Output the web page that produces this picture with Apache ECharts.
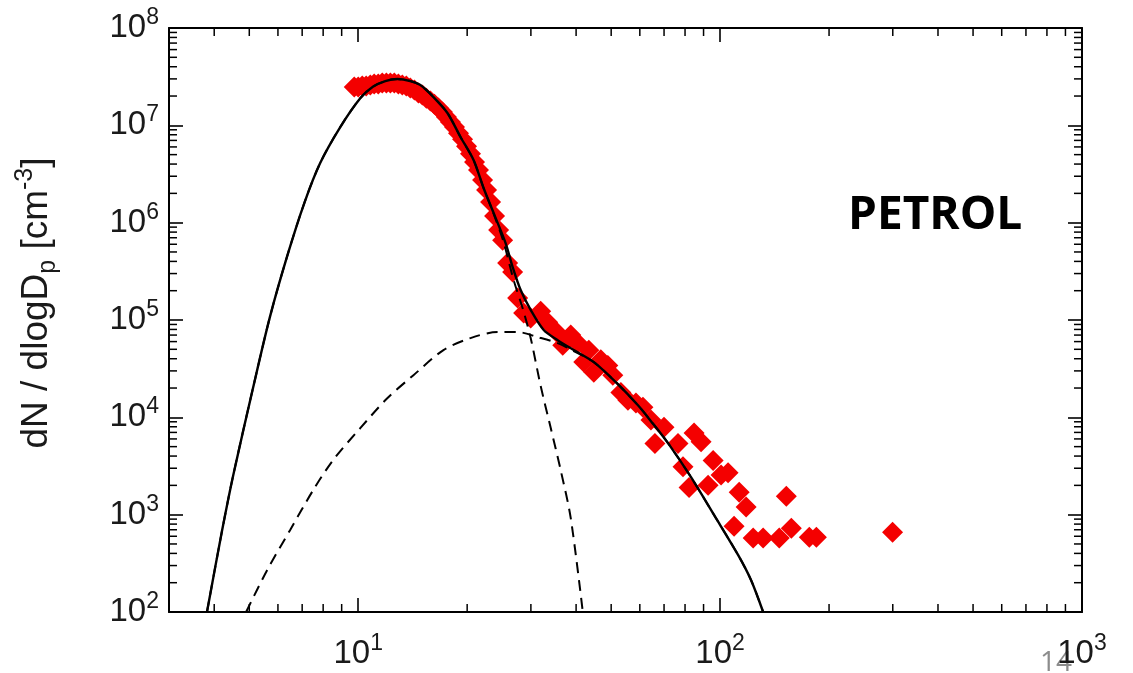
<!DOCTYPE html>
<html>
<head>
<meta charset="utf-8">
<script src="https://cdn.jsdelivr.net/npm/echarts@6/dist/echarts.min.js"></script>
<style>
html, body { margin: 0; padding: 0; background: #fff; }
#chart { width: 1133px; height: 673px; }
</style>
</head>
<body>
<div id="chart"></div>
<script>
// particle diameter Dp [nm] vs dN/dlogDp [cm-3]
const measured = [
    [9.75, 2.48e7], [10.0, 2.48e7], [10.26, 2.53e7], [10.52, 2.53e7], [10.80, 2.60e7],
    [11.07, 2.66e7], [11.36, 2.66e7], [11.65, 2.72e7], [11.96, 2.72e7], [12.27, 2.72e7],
    [12.58, 2.72e7], [12.91, 2.66e7], [13.24, 2.60e7], [13.58, 2.53e7], [13.93, 2.42e7],
    [14.30, 2.31e7], [14.67, 2.15e7], [15.04, 2.05e7], [15.43, 1.90e7], [15.83, 1.78e7],
    [16.24, 1.65e7], [16.66, 1.51e7], [17.09, 1.37e7], [17.53, 1.22e7], [17.98, 1.08e7],
    [18.45, 9.6e6], [18.93, 8.3e6], [19.42, 7.2e6], [19.92, 6.1e6], [20.43, 5.1e6],
    [20.96, 4.2e6], [21.50, 3.47e6], [22.06, 2.74e6], [22.63, 2.17e6], [23.21, 1.63e6],
    [23.81, 1.17e6], [24.43, 8.4e5], [25.06, 6.6e5], [25.87, 3.85e5], [26.71, 3.11e5],
    [27.57, 1.68e5], [28.65, 1.18e5], [29.96, 1.05e5], [31.93, 1.23e5], [33.38, 9.5e4],
    [35.36, 7.5e4], [36.74, 5.5e4], [38.66, 7.0e4], [40.42, 5.8e4], [42.00, 3.7e4],
    [43.37, 4.9e4], [44.77, 2.9e4], [46.81, 3.9e4], [48.95, 3.4e4], [50.53, 2.7e4],
    [53.19, 1.8e4], [55.62, 1.5e4], [58.53, 1.4e4], [61.20, 1.27e4], [64.40, 9.4e3],
    [66.06, 5.4e3], [69.98, 7.9e3], [76.49, 5.4e3], [78.97, 3.1e3], [82.06, 1.9e3],
    [84.72, 6.9e3], [88.59, 5.6e3], [92.64, 2.0e3], [95.64, 3.6e3], [100.6, 2.55e3],
    [105.2, 2.7e3], [109.3, 760], [112.9, 1.7e3], [118.0, 1.2e3], [123.4, 575],
    [131.5, 575], [145.7, 575], [152.4, 1.55e3], [157.3, 725], [176.4, 585],
    [184.5, 585], [299.6, 660]
];

// bimodal fit (solid) and its two modes (dashed)
const fitTotal = [
    [3.82, 100], [4.2, 670], [4.51, 2.5e3], [5.12, 2.0e4], [5.70, 1.07e5],
    [6.36, 4.5e5], [7.1, 1.6e6], [7.85, 4.1e6], [8.92, 9.6e6], [10.13, 1.9e7],
    [11.0, 2.5e7], [11.88, 2.85e7], [12.83, 2.99e7], [13.93, 2.85e7], [14.85, 2.59e7],
    [16.14, 1.95e7], [17.64, 1.34e7], [19.17, 7.59e6], [20.83, 4.40e6], [22.20, 2.27e6],
    [23.66, 1.26e6], [25.54, 6.17e5], [26.71, 3.50e5], [28.11, 2.03e5], [29.96, 1.27e5],
    [32.55, 7.88e4], [35.58, 6.21e4], [39.40, 4.91e4], [44.77, 3.69e4], [51.5, 2.30e4],
    [59.3, 1.33e4], [64.4, 9.14e3], [71.8, 5.43e3], [83.1, 2.43e3], [96.3, 988],
    [112.2, 384], [121.8, 212], [131.5, 100]
];
const fitMode1 = [
    [3.82, 100], [4.2, 670], [4.51, 2.5e3], [5.12, 2.0e4], [5.70, 1.07e5],
    [6.36, 4.5e5], [7.1, 1.6e6], [7.85, 4.1e6], [8.92, 9.6e6], [10.13, 1.9e7],
    [11.0, 2.5e7], [11.88, 2.85e7], [12.83, 2.99e7], [13.93, 2.85e7], [14.85, 2.59e7],
    [16.14, 1.95e7], [17.64, 1.34e7], [19.17, 7.59e6], [20.83, 4.40e6], [22.20, 2.27e6],
    [23.66, 1.24e6], [25.22, 6.3e5], [26.88, 2.57e5], [28.47, 1.32e5], [29.96, 6.52e4],
    [31.93, 2.1e4], [34.03, 7.8e3], [36.27, 2.86e3], [38.66, 920], [41.74, 100]
];
const fitMode2 = [
    [4.90, 100], [5.60, 269], [6.48, 693], [7.51, 1.79e3], [8.52, 3.63e3],
    [10.13, 7.74e3], [12.03, 1.57e4], [14.21, 2.71e4], [17.20, 4.91e4], [20.43, 6.52e4],
    [24.27, 7.52e4], [27.57, 7.52e4], [31.32, 6.67e4], [35.58, 5.79e4], [39.40, 4.8e4],
    [44.77, 3.69e4], [51.5, 2.30e4], [59.3, 1.33e4], [64.4, 9.14e3], [71.8, 5.43e3],
    [83.1, 2.43e3], [96.3, 988], [112.2, 384], [121.8, 212], [131.5, 100]
];

const xMinorTicks = [4, 5, 6, 7, 8, 9, 20, 30, 40, 50, 60, 70, 80, 90,
    200, 300, 400, 500, 600, 700, 800, 900];
const yMinorTicks = [
    200, 300, 400, 500, 600, 700, 800, 900,
    2e3, 3e3, 4e3, 5e3, 6e3, 7e3, 8e3, 9e3,
    2e4, 3e4, 4e4, 5e4, 6e4, 7e4, 8e4, 9e4,
    2e5, 3e5, 4e5, 5e5, 6e5, 7e5, 8e5, 9e5,
    2e6, 3e6, 4e6, 5e6, 6e6, 7e6, 8e6, 9e6,
    2e7, 3e7, 4e7, 5e7, 6e7, 7e7, 8e7, 9e7
];

const FONT = '"Liberation Sans", Arial, Helvetica, sans-serif';

const powLabel = {
    show: true,
    fontFamily: FONT,
    fontSize: 33,
    color: '#1a1a1a',
    formatter: function (v) {
        const e = Math.log10(v);
        const n = Math.round(e);
        if (Math.abs(e - n) > 1e-6) return '';
        return '{b|10}{s|' + n + '}';
    },
    rich: {
        b: { fontFamily: FONT, fontSize: 33, lineHeight: 44, color: '#1a1a1a' },
        s: { fontFamily: FONT, fontSize: 23, verticalAlign: 'top', color: '#1a1a1a' }
    }
};

function logAxis(pos, min, max, withLabels) {
    return {
        type: 'log',
        logBase: 10,
        position: pos,
        min: min,
        max: max,
        splitLine: { show: false },
        axisLine: { show: true, onZero: false, lineStyle: { color: '#000', width: 2 } },
        axisTick: { show: true, inside: true, length: 14, lineStyle: { color: '#000', width: 1.6 } },
        axisLabel: withLabels ? Object.assign({}, powLabel) : { show: false },
        minorTick: { show: false }
    };
}

function minorTicks(dir) {
    return function (params, api) {
        const cs = params.coordSys;
        const p = api.coord([api.value(0), api.value(1)]);
        const st = { stroke: '#000', lineWidth: 1.5 };
        const len = 8;
        if (dir === 'x') {
            const b = cs.y + cs.height;
            return {
                type: 'group',
                children: [
                    { type: 'line', shape: { x1: p[0], y1: b, x2: p[0], y2: b - len }, style: st },
                    { type: 'line', shape: { x1: p[0], y1: cs.y, x2: p[0], y2: cs.y + len }, style: st }
                ]
            };
        }
        const r = cs.x + cs.width;
        return {
            type: 'group',
            children: [
                { type: 'line', shape: { x1: cs.x, y1: p[1], x2: cs.x + len, y2: p[1] }, style: st },
                { type: 'line', shape: { x1: r, y1: p[1], x2: r - len, y2: p[1] }, style: st }
            ]
        };
    };
}

const xAxisBottom = logAxis('bottom', 3, 1000, true);
xAxisBottom.axisLabel.margin = 20;
const yAxisLeft = logAxis('left', 100, 1e8, true);
yAxisLeft.axisLabel.margin = 10;
yAxisLeft.name = '{t|dN / dlogD}{sb|p}{t| [cm}{sp|-3}{t|]}';
yAxisLeft.nameLocation = 'middle';
yAxisLeft.nameRotate = 90;
yAxisLeft.nameGap = 108;
yAxisLeft.nameTextStyle = {
    fontFamily: FONT,
    color: '#1a1a1a',
    padding: [0, 0, 0, 34],
    rich: {
        t: { fontFamily: FONT, fontSize: 37, lineHeight: 48, color: '#1a1a1a' },
        sb: { fontFamily: FONT, fontSize: 25, verticalAlign: 'bottom', color: '#1a1a1a' },
        sp: { fontFamily: FONT, fontSize: 25, verticalAlign: 'top', color: '#1a1a1a' }
    }
};

const dashed = { color: '#000', width: 2, type: [11, 7] };

const chart = echarts.init(document.getElementById('chart'));
chart.setOption({
    animation: false,
    backgroundColor: '#fff',
    grid: { left: 169, right: 51, top: 28, bottom: 61, containLabel: false },
    xAxis: [xAxisBottom, logAxis('top', 3, 1000, false)],
    yAxis: [yAxisLeft, logAxis('right', 100, 1e8, false)],
    series: [
        {
            type: 'scatter',
            data: measured,
            symbol: 'diamond',
            symbolSize: 21,
            itemStyle: { color: '#f40000', opacity: 1 },
            z: 2
        },
        {
            type: 'line',
            data: fitMode1,
            showSymbol: false,
            smooth: 0.3,
            lineStyle: dashed,
            z: 3
        },
        {
            type: 'line',
            data: fitMode2,
            showSymbol: false,
            smooth: 0.3,
            lineStyle: dashed,
            z: 3
        },
        {
            type: 'line',
            data: fitTotal,
            showSymbol: false,
            smooth: 0.3,
            lineStyle: { color: '#000', width: 2.4 },
            z: 4
        },
        {
            type: 'custom',
            data: xMinorTicks.map(function (v) { return [v, 1e5]; }),
            renderItem: minorTicks('x'),
            silent: true,
            z: 5
        },
        {
            type: 'custom',
            data: yMinorTicks.map(function (v) { return [10, v]; }),
            renderItem: minorTicks('y'),
            silent: true,
            z: 5
        }
    ],
    graphic: [
        {
            type: 'text',
            left: 848,
            top: 193,
            style: { text: 'PETROL', font: 'bold 46px "Open Sans", "Noto Sans", sans-serif', fill: '#000' }
        },
        {
            type: 'text',
            left: 1040,
            top: 649,
            style: { text: '14', font: '28px "Open Sans", sans-serif', fill: '#8c8c8c' }
        }
    ]
});
</script>
</body>
</html>
